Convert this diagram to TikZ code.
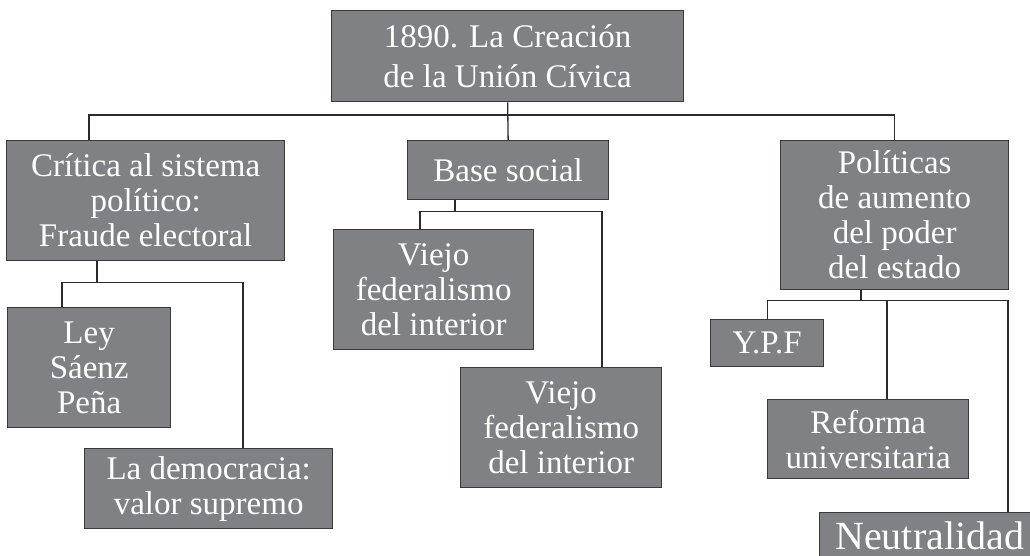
\documentclass[tikz,border=0pt]{standalone}
\usepackage{fontspec}
\setmainfont{Liberation Serif}
\definecolor{boxfill}{HTML}{808184}
\definecolor{boxline}{HTML}{3A3A3A}
\definecolor{connline}{HTML}{2B2B2B}
\begin{document}
\begin{tikzpicture}[x=1pt,y=-1pt,
  box/.style={draw=boxline,line width=1.3pt,fill=boxfill,text=white,anchor=north west,
    inner sep=0pt,align=center,font=\fontsize{33}{35}\selectfont},
  conn/.style={draw=connline,line width=1.3pt}]
\useasboundingbox (0,0) rectangle (1030,556);
\clip (0,0) rectangle (1030,556);
\node[box,minimum width=352,minimum height=91,font=\fontsize{33}{40}\selectfont] (top) at (331,10) {1890. La Creación\\de la Unión Cívica};
\node[box,minimum width=278,minimum height=120] (crit) at (6,140) {Crítica al sistema\\político:\\Fraude electoral};
\node[box,minimum width=201,minimum height=59] (base) at (407,140) {Base social};
\node[box,minimum width=228,minimum height=149] (pol) at (780,140) {Políticas\\de aumento\\del poder\\del estado};
\node[box,minimum width=200,minimum height=120] (v1) at (333,229) {Viejo\\federalismo\\del interior};
\node[box,minimum width=201,minimum height=120] (v2) at (460,367) {Viejo\\federalismo\\del interior};
\node[box,minimum width=163,minimum height=120] (ley) at (7,307) {Ley\\Sáenz\\Peña};
\node[box,minimum width=248,minimum height=80] (dem) at (84,448) {La democracia:\\valor supremo};
\node[box,minimum width=113,minimum height=47] (ypf) at (710,319) {Y.P.F};
\node[box,minimum width=201,minimum height=79] (ref) at (767,399) {Reforma\\universitaria};
\node[box,minimum width=220,minimum height=46,font=\fontsize{40}{42}\selectfont] (neu) at (819,512) {Neutralidad};
% top level
\draw[conn] (top.south) -- (base.north);
\draw[conn] ([xshift=83]crit.north west) -- ++(0,-25) -| (pol.north);
% critica
\coordinate (cj) at ([xshift=91,yshift=-21]crit.south west);
\draw[conn] ([xshift=91]crit.south west) -- (cj);
\draw[conn] ([xshift=55]ley.north west) |- (cj) -| ([xshift=159]dem.north west);
% base social
\coordinate (bj) at ([xshift=48,yshift=-11]base.south west);
\draw[conn] ([xshift=48]base.south west) -- (bj);
\draw[conn] ([xshift=87]v1.north west) |- (bj) -| ([xshift=142]v2.north west);
% politicas
\coordinate (pj) at ([xshift=81,yshift=-10]pol.south west);
\draw[conn] ([xshift=81]pol.south west) -- (pj);
\draw[conn] (ypf.north) |- (pj) -| ([xshift=189]neu.north west);
\draw[conn] ([xshift=120]ref.north west) -- ([xshift=120]ref.north west |- pj);
\end{tikzpicture}
\end{document}
